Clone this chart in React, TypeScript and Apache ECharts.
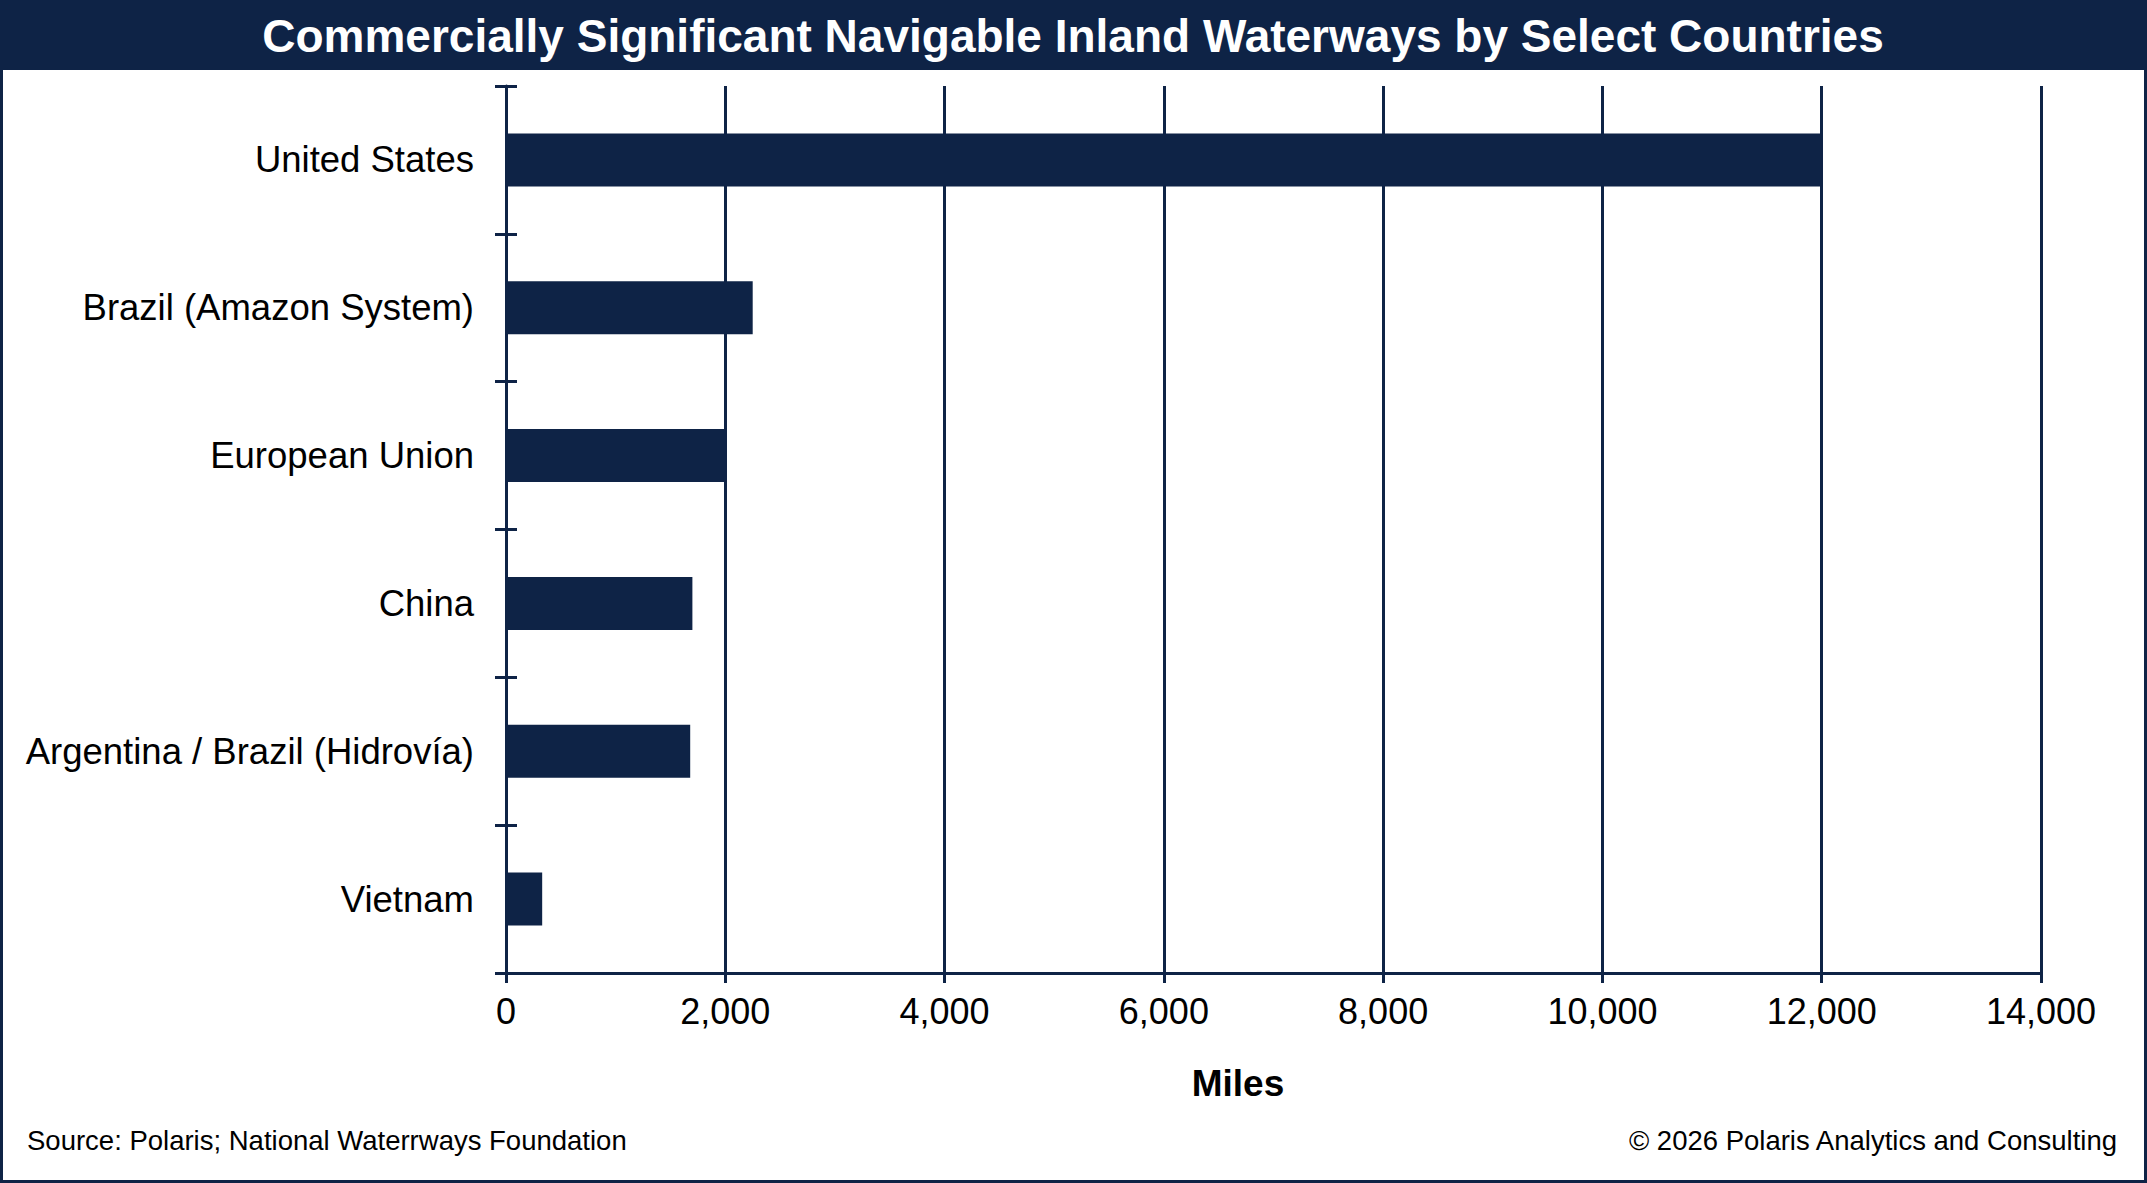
import { useEffect, useRef } from "react";
import * as echarts from "echarts";

const NAVY = "#0e2346";
const FONT = "'Liberation Sans', Arial, sans-serif";

const countries = [
  "United States",
  "Brazil (Amazon System)",
  "European Union",
  "China",
  "Argentina / Brazil (Hidrovía)",
  "Vietnam",
];
const miles = [12000, 2250, 2000, 1700, 1680, 330];
const axisMax = 14000;
const axisStep = 2000;

const title = "Commercially Significant Navigable Inland Waterways by Select Countries";
const sourceNote = "Source: Polaris; National Waterrways Foundation";
const copyright = "© 2026 Polaris Analytics and Consulting";

export default function App() {
  const ref = useRef<HTMLDivElement>(null);

  useEffect(() => {
    document.body.style.margin = "0";
    if (!ref.current) return;
    const chart = echarts.init(ref.current, undefined, { renderer: "svg" });
    const option = {
      animation: false,
      backgroundColor: "#ffffff",
      textStyle: { fontFamily: FONT },
      grid: { left: 506, top: 86, right: 106, bottom: 210, containLabel: false },
      xAxis: {
        type: "value",
        min: 0,
        max: axisMax,
        interval: axisStep,
        axisLine: { show: true, lineStyle: { color: NAVY, width: 3 } },
        axisTick: { show: true, length: 10, lineStyle: { color: NAVY, width: 3 } },
        splitLine: { show: true, lineStyle: { color: NAVY, width: 3 } },
        axisLabel: {
          color: "#000",
          fontSize: 36,
          fontFamily: FONT,
          margin: 20,
          formatter: (v: number) => v.toLocaleString("en-US"),
        },
      },
      yAxis: [
        {
          type: "category",
          data: countries,
          inverse: true,
          position: "left",
          axisLine: { show: true, lineStyle: { color: NAVY, width: 3 } },
          axisTick: { show: true, length: 11, lineStyle: { color: NAVY, width: 3 } },
          axisLabel: { color: "#000", fontSize: 36.5, fontFamily: FONT, margin: 32 },
          splitLine: { show: false },
        },
        {
          type: "category",
          data: countries,
          inverse: true,
          position: "left",
          offset: 0,
          axisLine: { show: false },
          axisTick: { show: true, inside: true, length: 11, lineStyle: { color: NAVY, width: 3 } },
          axisLabel: { show: false },
          splitLine: { show: false },
        },
      ],
      series: [
        {
          type: "bar",
          data: miles,
          yAxisIndex: 0,
          barWidth: 53,
          itemStyle: { color: NAVY },
        },
      ],
      graphic: [
        {
          type: "rect",
          shape: { x: 0, y: 0, width: 2147, height: 70 },
          style: { fill: NAVY },
          z: 10,
        },
        {
          type: "text",
          x: 1073,
          y: 36,
          style: {
            text: title,
            fill: "#ffffff",
            font: `bold 46px ${FONT}`,
            align: "center",
            verticalAlign: "middle",
          },
          z: 11,
        },
        {
          type: "rect",
          shape: { x: 1.5, y: 1.5, width: 2144, height: 1180 },
          style: { fill: "none", stroke: NAVY, lineWidth: 3 },
          z: 12,
        },
        {
          type: "text",
          x: 1238,
          y: 1083,
          style: {
            text: "Miles",
            fill: "#000",
            font: `bold 37px ${FONT}`,
            align: "center",
            verticalAlign: "middle",
          },
        },
        {
          type: "text",
          x: 27,
          y: 1140,
          style: {
            text: sourceNote,
            fill: "#000",
            font: `27.5px ${FONT}`,
            align: "left",
            verticalAlign: "middle",
          },
        },
        {
          type: "text",
          x: 2117,
          y: 1140,
          style: {
            text: copyright,
            fill: "#000",
            font: `27.5px ${FONT}`,
            align: "right",
            verticalAlign: "middle",
          },
        },
      ],
    } as echarts.EChartsOption;
    chart.setOption(option);
    const onResize = () => chart.resize();
    window.addEventListener("resize", onResize);
    return () => {
      window.removeEventListener("resize", onResize);
      chart.dispose();
    };
  }, []);

  return (
    <div
      ref={ref}
      style={{ width: 2147, height: 1183 }}
      aria-label="Commercially significant navigable inland waterways bar chart"
    />
  );
}
